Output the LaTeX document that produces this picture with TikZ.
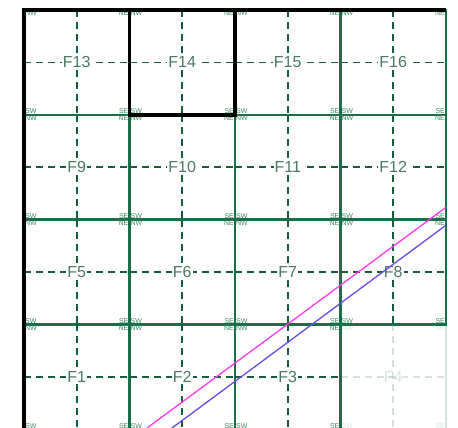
\documentclass[tikz,border=0pt]{standalone}
\usepackage{fontspec}
\setmainfont{Liberation Sans}
\definecolor{gridgreen}{HTML}{1A6E48}
\definecolor{dashgreen}{HTML}{155E3C}
\definecolor{labgreen}{HTML}{4A7A62}
\definecolor{cornergreen}{HTML}{3E8A62}
\definecolor{pinkline}{HTML}{FF3BEF}
\definecolor{blueline}{HTML}{6A4BE0}
\tikzset{
  cellbox/.style={draw=gridgreen, line width=2.4pt},
  centerdash/.style={draw=dashgreen, line width=1.7pt, dash pattern=on 7pt off 5pt},
  celllabel/.style={text=labgreen, font=\fontsize{16}{16}\selectfont, inner sep=1pt, fill=white},
  cornerlabel/.style={text=cornergreen, font=\fontsize{7}{7}\selectfont, inner sep=0.9pt},
  axisline/.style={draw=black, line width=3.2pt},
  selbox/.style={draw=black, line width=3.4pt},
}
\newcommand{\drawcell}[3]{% col, row, number
  \pgfmathsetmacro{\xa}{24+#1*105.5}
  \pgfmathsetmacro{\xb}{24+(#1+1)*105.5}
  \pgfmathsetmacro{\ya}{10+#2*104.8}
  \pgfmathsetmacro{\yb}{10+(#2+1)*104.8}
  \pgfmathsetmacro{\xm}{(\xa+\xb)/2}
  \pgfmathsetmacro{\ym}{(\ya+\yb)/2}
  \draw[cellbox] (\xa,\ya) rectangle (\xb,\yb);
  \draw[centerdash] (\xa,\ym) -- (\xb,\ym);
  \draw[centerdash] (\xm,\ya) -- (\xm,\yb);
  \node[celllabel] (F#3) at (\xm,\ym) {F#3};
  \node[cornerlabel, anchor=north west] (F#3nw) at (\xa,\ya) {NW};
  \node[cornerlabel, anchor=north east] (F#3ne) at (\xb,\ya) {NE};
  \node[cornerlabel, anchor=south west] (F#3sw) at (\xa,\yb) {SW};
  \node[cornerlabel, anchor=south east] (F#3se) at (\xb,\yb) {SE};
}
\begin{document}
\begin{tikzpicture}[x=1pt,y=-1pt]
\useasboundingbox (0,0) rectangle (458,428);
\fill[white] (0,0) rectangle (458,428);
\clip (0,0) rectangle (458,428);
% faded cell F4
\begin{scope}[opacity=0.18]
  \drawcell{3}{3}{4}
\end{scope}
% remaining cells
\foreach \r in {0,...,3}{
  \foreach \c in {0,...,3}{
    \pgfmathtruncatemacro{\n}{(3-\r)*4+\c+1}
    \ifnum\n=4\relax\else
      \drawcell{\c}{\r}{\n}
    \fi
  }
}
% axes
\coordinate (tl) at (24,10);
\coordinate (tr) at (446,10);
\coordinate (bl) at (24,440);
\draw[axisline] (bl) -- (tl) -- (tr);
% selected cell F14
\coordinate (s1) at (129.5,10);
\coordinate (s2) at (235,114.8);
\draw[selbox] (s1) rectangle (s2);
% diagonal lines
\begin{scope}
  \clip (24,10) rectangle (446,440);
  \coordinate (p1) at (141.6,432);
  \coordinate (p2) at (446,207.3);
  \coordinate (b1) at (166.6,432);
  \coordinate (b2) at (446,225.2);
  \draw[pinkline, line width=1.3pt] (p1) -- (p2);
  \draw[blueline, line width=1.3pt] (b1) -- (b2);
\end{scope}
\end{tikzpicture}
\end{document}
